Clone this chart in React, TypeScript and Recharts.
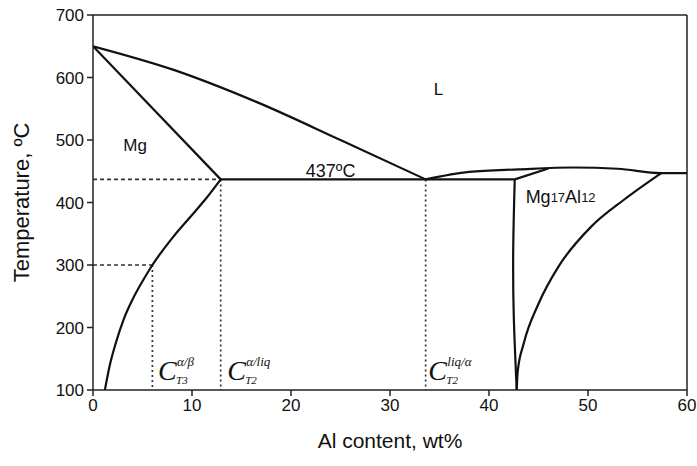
import React from 'react';
import { LineChart, Line, XAxis, YAxis, ReferenceLine, ReferenceDot, Label } from 'recharts';

// ---- data (wt% Al, temperature °C) ----
const liquidusMgX = [0, 8, 16.5, 25, 33.6];
const liquidusMgT = [650, 613, 561, 500, 437];

const solidusMgX = [0, 12.9];
const solidusMgT = [650, 437];

const solvusMgX = [1.2, 1.7, 2.3, 3.1, 4, 5, 6, 8, 10, 11.5, 12.9];
const solvusMgT = [100, 140, 175, 213, 245, 274, 300, 343, 380, 408, 437];

const eutecticX = [12.9, 42.6];
const eutecticT = [437, 437];

const liquidusRightX = [33.6, 38, 43, 48.5, 53, 57.4, 60];
const liquidusRightT = [437, 449, 453, 456, 454, 447, 447];

const solidusBetaX = [42.6, 46];
const solidusBetaT = [437, 454.5];

const betaLeftX = [42.6, 42.45, 42.5, 42.8];
const betaLeftT = [437, 330, 220, 100];

const betaRightX = [42.8, 42.9, 43.5, 45, 47, 50.3, 53.6, 57.4];
const betaRightT = [100, 130, 174, 238, 297, 361, 404, 447];

// guide lines
const guideEutH_X = [0, 12.9];
const guideEutH_T = [437, 437];
const guide300H_X = [0, 6];
const guide300H_T = [300, 300];
const guideV1_X = [6, 6];
const guideV1_T = [300, 100];
const guideV2_X = [12.9, 12.9];
const guideV2_T = [437, 100];
const guideV3_X = [33.6, 33.6];
const guideV3_T = [437, 100];

const xTicks = [0, 10, 20, 30, 40, 50, 60];
const yTicks = [100, 200, 300, 400, 500, 600, 700];

const pts = (xs: number[], ts: number[]) => xs.map((x, i) => ({ x, t: ts[i] }));

const SANS = '"Liberation Sans", Arial, sans-serif';
const SERIF = '"Liberation Serif", "Times New Roman", serif';
const INK = '#111';

const solid = (data: any[], key: string, type: any = 'monotone') => (
  <Line key={key} data={data} dataKey="t" type={type} stroke={INK} strokeWidth={2.2}
    dot={false} activeDot={false} isAnimationActive={false} />
);
const guide = (data: any[], key: string, dash: string) => (
  <Line key={key} data={data} dataKey="t" type="linear" stroke="#333" strokeWidth={1.7}
    strokeDasharray={dash} dot={false} activeDot={false} isAnimationActive={false} />
);

const textAt = (content: React.ReactNode, anchor: string = 'middle', size = 17) => (p: any) => {
  const vb = p.viewBox || {};
  const cx = (vb.x ?? 0) + (vb.width ?? 0) / 2;
  const cy = (vb.y ?? 0) + (vb.height ?? 0) / 2;
  return (
    <text x={cx} y={cy} textAnchor={anchor} dominantBaseline="central" fontFamily={SANS} fontSize={size} fill={INK}>
      {content}
    </text>
  );
};

const cLabel = (sup: string, sub: string) => (p: any) => {
  const vb = p.viewBox || {};
  const x = (vb.x ?? 0) + (vb.width ?? 0) / 2;
  const y = (vb.y ?? 0) + (vb.height ?? 0) / 2;
  return (
    <g fontFamily={SERIF} fontStyle="italic" fill={INK}>
      <text x={x} y={y} fontSize={28}>C</text>
      <text x={x + 19} y={y - 14} fontSize={13}>{sup}</text>
      <text x={x + 18} y={y + 4} fontSize={11}>{sub}</text>
    </g>
  );
};

const anno = (x: number, t: number, label: any, key: string) => (
  <ReferenceDot key={key} x={x} y={t} r={1} fill="none" stroke="none" label={label} />
);

export default function App() {
  return (
    <div style={{ position: 'absolute', left: 0, top: 0, background: '#fff' }}>
      <LineChart width={697} height={466} margin={{ top: 15, right: 10, bottom: 46, left: 0 }}>
        <XAxis dataKey="x" type="number" domain={[0, 60]} ticks={xTicks} allowDataOverflow
          tick={{ fontFamily: SANS, fontSize: 17, fill: INK }} tickSize={6} tickMargin={3}
          stroke="#222" strokeWidth={1.5} height={30}>
          <Label content={(p: any) => {
            const vb = p.viewBox || {};
            return (
              <text x={vb.x + vb.width / 2} y={448} textAnchor="middle" fontFamily={SANS} fontSize={21} fill={INK}>
                Al content, wt%
              </text>
            );
          }} />
        </XAxis>
        <YAxis dataKey="t" type="number" domain={[100, 700]} ticks={yTicks} allowDataOverflow
          tick={{ fontFamily: SANS, fontSize: 17, fill: INK }} tickSize={6} tickMargin={3}
          stroke="#222" strokeWidth={1.5} width={93}>
          <Label content={(p: any) => {
            const vb = p.viewBox || {};
            const cy = vb.y + vb.height / 2;
            return (
              <text x={21} y={cy} transform={`rotate(-90, 21, ${cy})`} textAnchor="middle" dominantBaseline="central"
                fontFamily={SANS} fontSize={22} fill={INK}>
                Temperature, ºC
              </text>
            );
          }} />
        </YAxis>
        <ReferenceLine y={700} stroke="#222" strokeWidth={1.5} />
        <ReferenceLine x={60} stroke="#222" strokeWidth={1.5} />

        {guide(pts(guideEutH_X, guideEutH_T), 'g1', '4 3')}
        {guide(pts(guide300H_X, guide300H_T), 'g2', '4 3')}
        {guide(pts(guideV1_X, guideV1_T), 'g3', '2 3')}
        {guide(pts(guideV2_X, guideV2_T), 'g4', '2 3')}
        {guide(pts(guideV3_X, guideV3_T), 'g5', '2 3')}

        {solid(pts(liquidusMgX, liquidusMgT), 'liqMg')}
        {solid(pts(solidusMgX, solidusMgT), 'solMg', 'linear')}
        {solid(pts(solvusMgX, solvusMgT), 'solvMg')}
        {solid(pts(eutecticX, eutecticT), 'eut', 'linear')}
        {solid(pts(liquidusRightX, liquidusRightT), 'liqR')}
        {solid(pts(solidusBetaX, solidusBetaT), 'solB', 'linear')}
        {solid(pts(betaLeftX, betaLeftT), 'bL', 'natural')}
        {solid(pts(betaRightX, betaRightT), 'bR')}

        {anno(34.9, 581, textAt('L'), 'aL')}
        {anno(4.25, 492, textAt('Mg'), 'aMg')}
        {anno(24, 450, textAt('437ºC', 'middle', 18), 'aT')}
        {anno(43.7, 409, textAt(<>Mg<tspan fontSize={13}>17</tspan>Al<tspan fontSize={13}>12</tspan></>, 'start', 18), 'aB')}
        {anno(6.57, 116, cLabel('α/β', 'T3'), 'c1')}
        {anno(13.55, 116, cLabel('α/liq', 'T2'), 'c2')}
        {anno(33.87, 116, cLabel('liq/α', 'T2'), 'c3')}
      </LineChart>
    </div>
  );
}
